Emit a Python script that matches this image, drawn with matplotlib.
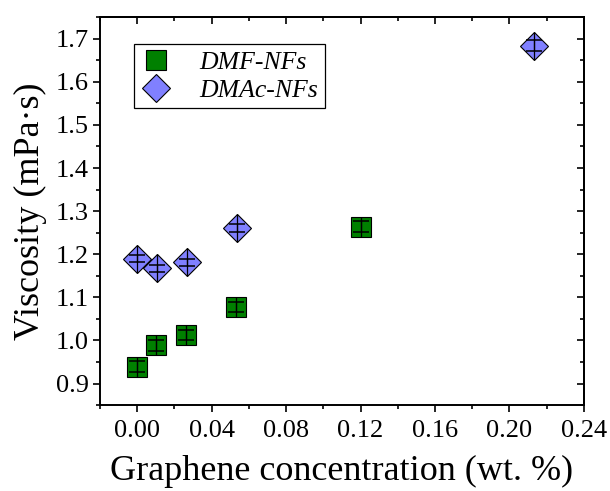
import matplotlib
matplotlib.use("Agg")
import matplotlib.pyplot as plt
from matplotlib.ticker import MultipleLocator, FormatStrFormatter

plt.rcParams['font.family'] = ['Liberation Serif', 'DejaVu Serif']

# Viscosity of graphene nanofluids in two base solvents
dmf_conc = [0.000, 0.010, 0.026, 0.053, 0.120]
dmf_visc = [0.939, 0.989, 1.012, 1.077, 1.264]
dmf_err = [0.013, 0.013, 0.012, 0.012, 0.012]

dmac_conc = [0.000, 0.0105, 0.0265, 0.0535, 0.213]
dmac_visc = [1.190, 1.167, 1.181, 1.260, 1.684]
dmac_err = [0.009, 0.009, 0.009, 0.009, 0.012]

x_ticks = [0.00, 0.04, 0.08, 0.12, 0.16, 0.20, 0.24]
y_ticks = [0.9, 1.0, 1.1, 1.2, 1.3, 1.4, 1.5, 1.6, 1.7]

fig = plt.figure(figsize=(6.10, 4.91), dpi=100)
ax = fig.add_axes([0.164, 0.175, 0.793, 0.790])

green = '#008000'
blue = '#8080ff'
msize = 14.5

ax.plot(dmf_conc, dmf_visc, linestyle='none', marker='s', markersize=msize,
        markerfacecolor=green, markeredgecolor='black', markeredgewidth=0.8,
        label='DMF-NFs', zorder=2)
ax.plot(dmac_conc, dmac_visc, linestyle='none', marker='D', markersize=msize,
        markerfacecolor=blue, markeredgecolor='black', markeredgewidth=0.8,
        label='DMAc-NFs', zorder=2)

# Error bars with a vertical stem spanning each symbol
for xs, ys, es, stem in [(dmf_conc, dmf_visc, dmf_err, msize * 0.98),
                         (dmac_conc, dmac_visc, dmac_err, msize * 1.40)]:
    ax.errorbar(xs, ys, yerr=es, fmt='none', ecolor='black', elinewidth=0.9,
                capsize=6, capthick=1.1, zorder=3)
    ax.plot(xs, ys, linestyle='none', marker='|', markersize=stem,
            markeredgecolor='black', markeredgewidth=0.9, zorder=3)

ax.set_xlim(-0.02, 0.24)
ax.set_ylim(0.85, 1.75)
ax.set_xticks(x_ticks)
ax.set_yticks(y_ticks)
ax.xaxis.set_major_formatter(FormatStrFormatter('%.2f'))
ax.yaxis.set_major_formatter(FormatStrFormatter('%.1f'))
ax.xaxis.set_minor_locator(MultipleLocator(0.02))
ax.yaxis.set_minor_locator(MultipleLocator(0.05))

ax.tick_params(which='major', direction='out', length=5, width=1.2,
               labelsize=19, pad=3, colors='black')
ax.tick_params(which='minor', direction='out', length=3, width=1.2)
ax.tick_params(axis='x', which='major', pad=6)

for sp in ax.spines.values():
    sp.set_linewidth(1.4)

# Inward ticks on the top and right frame edges
top = ax.secondary_xaxis('top')
top.set_xticks(x_ticks)
top.xaxis.set_minor_locator(MultipleLocator(0.02))
top.tick_params(which='major', direction='in', length=5, width=1.2, labeltop=False)
top.tick_params(which='minor', direction='in', length=3, width=1.2)
top.spines['top'].set_linewidth(1.4)

right = ax.secondary_yaxis('right')
right.set_yticks(y_ticks)
right.yaxis.set_minor_locator(MultipleLocator(0.05))
right.tick_params(which='major', direction='in', length=5, width=1.2, labelright=False)
right.tick_params(which='minor', direction='in', length=3, width=1.2)
right.spines['right'].set_linewidth(1.4)

ax.set_xlabel('Graphene concentration (wt. %)', fontsize=26, labelpad=9)
ax.set_ylabel('Viscosity (mPa\u00b7s)', fontsize=26, labelpad=6)

leg = ax.legend(loc='upper left', bbox_to_anchor=(0.07, 0.93), frameon=True,
                fancybox=False, edgecolor='black', framealpha=1,
                prop={'family': 'Liberation Serif', 'style': 'italic', 'size': 18.5},
                handlelength=1.2, handletextpad=1.1, borderpad=0.25,
                labelspacing=0.2, borderaxespad=0)
leg.get_frame().set_linewidth(0.9)

fig.savefig('out.png', dpi=100)
